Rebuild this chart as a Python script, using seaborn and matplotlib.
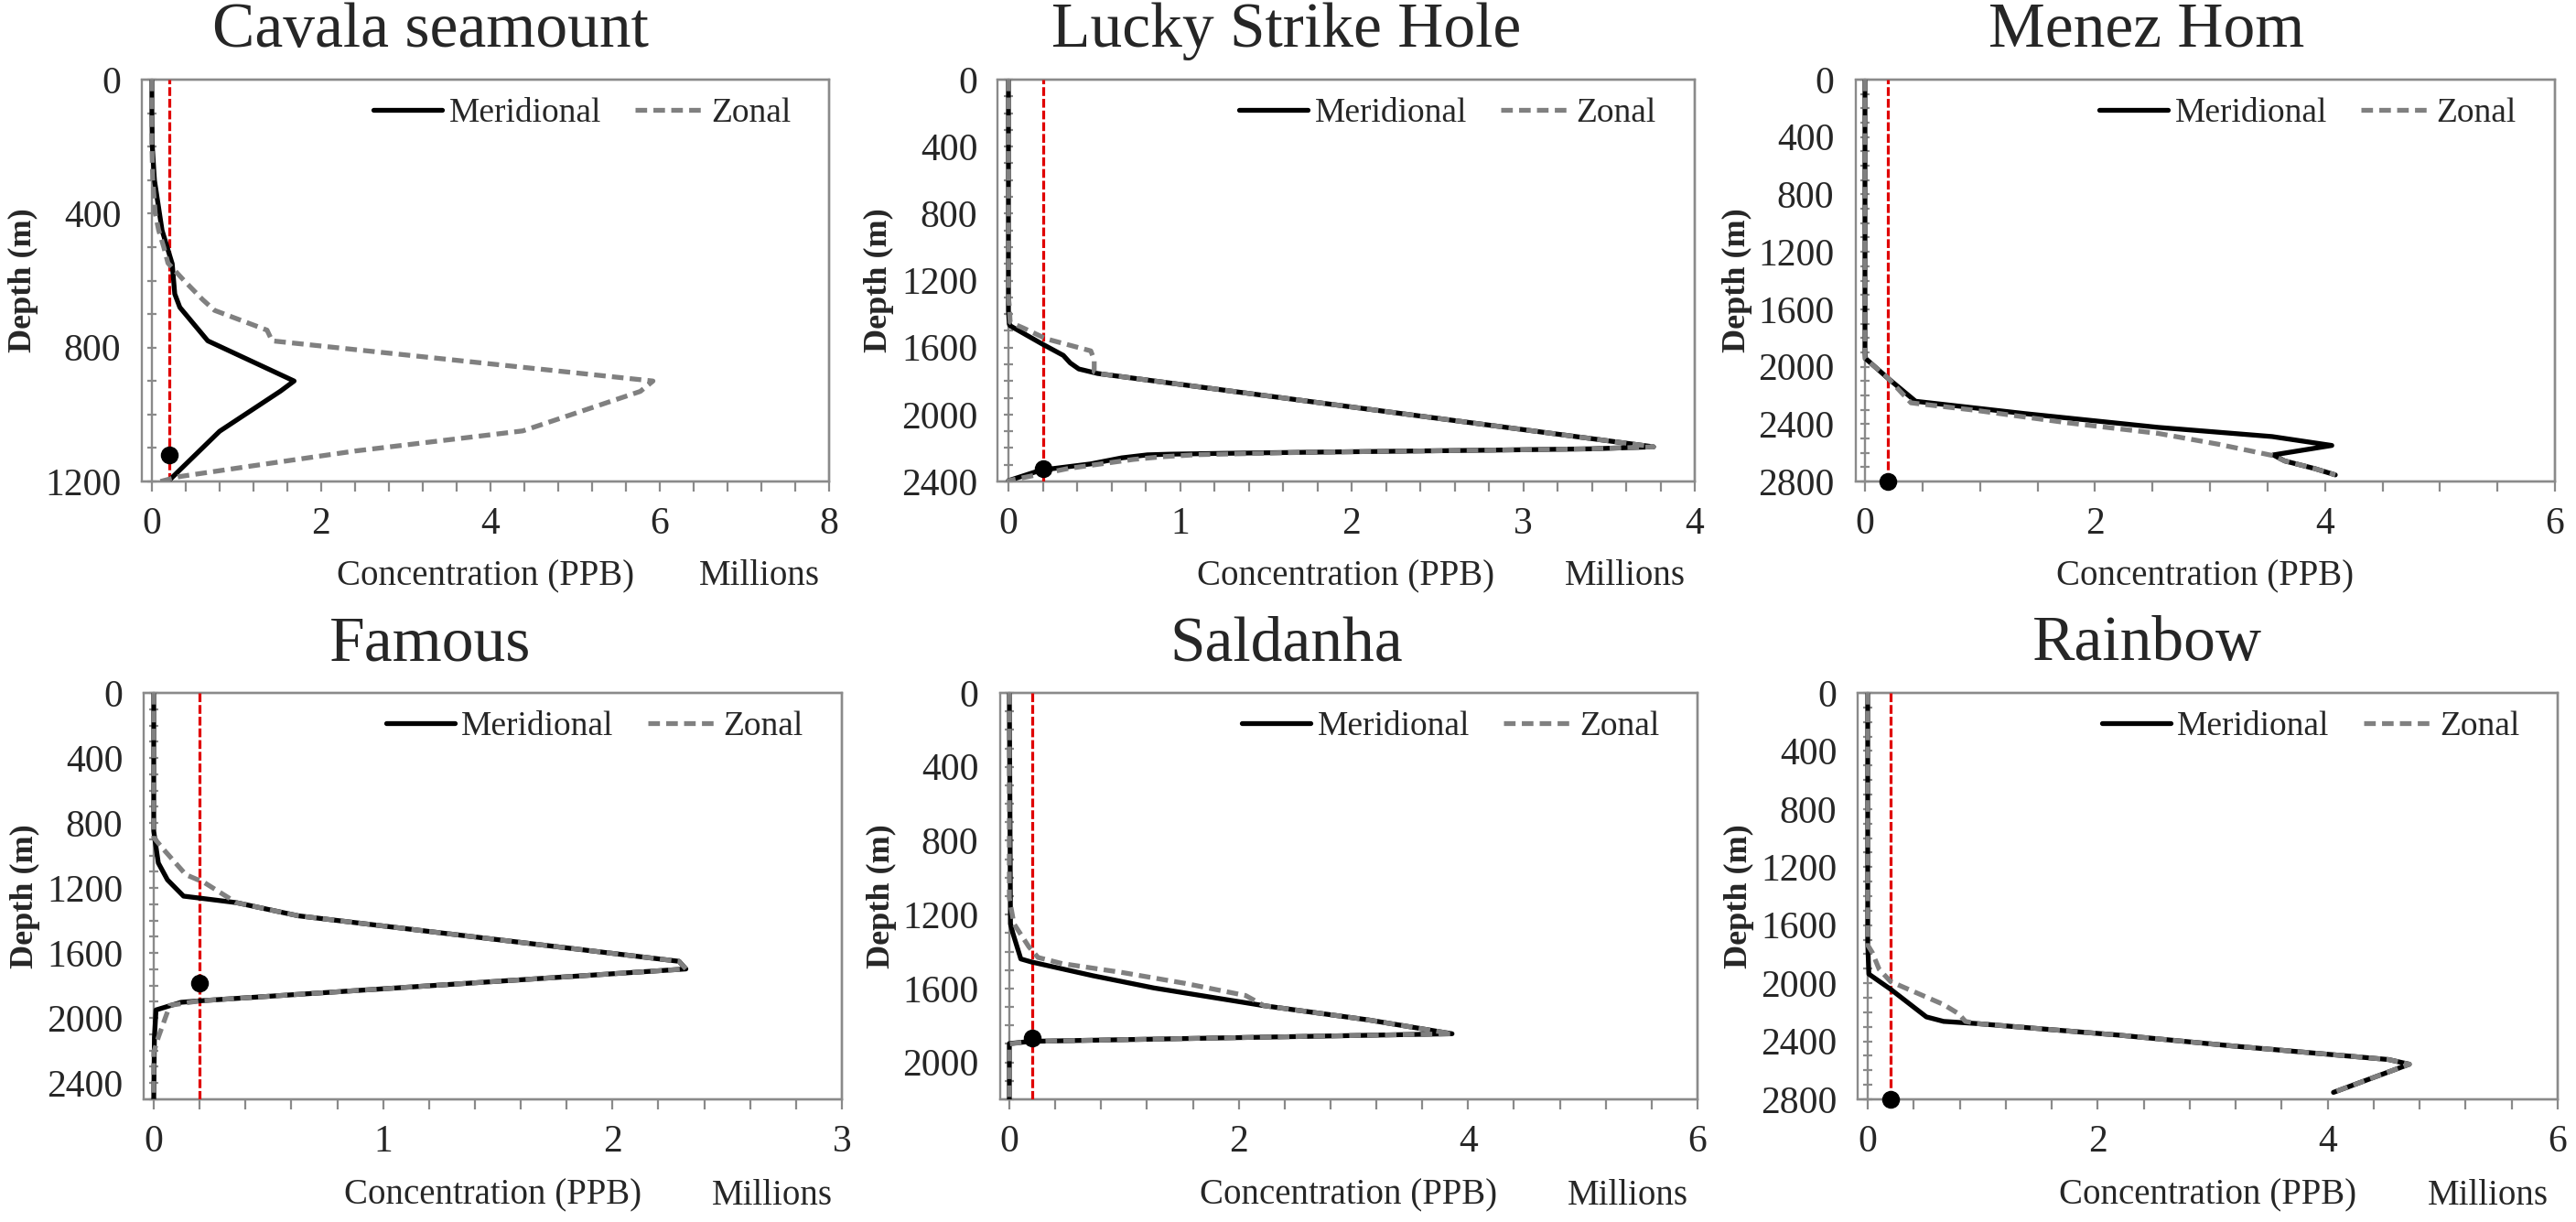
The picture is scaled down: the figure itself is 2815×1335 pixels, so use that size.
import matplotlib
matplotlib.use("Agg")
import matplotlib.pyplot as plt
from matplotlib.ticker import MultipleLocator
from matplotlib.patches import Rectangle
from matplotlib.lines import Line2D
import pandas as pd
import seaborn as sns

# ---------------- data (concentration in millions of PPB, depth in m) ----------------
sites = ["Cavala seamount", "Lucky Strike Hole", "Menez Hom", "Famous", "Saldanha", "Rainbow"]

cav_mer_depth = [0, 100, 200, 300, 400, 450, 500, 550, 640, 680, 780, 900, 930, 975, 1050, 1200]
cav_mer_conc = [0.0, 0.0, 0.005, 0.03, 0.09, 0.12, 0.18, 0.24, 0.27, 0.33, 0.66, 1.68, 1.52, 1.25, 0.80, 0.19]
cav_zon_depth = [0, 200, 300, 400, 450, 500, 548, 600, 657, 689, 748, 780, 900, 931, 1022, 1049, 1109, 1154, 1186, 1200]
cav_zon_conc = [0.0, 0.0, 0.01, 0.04, 0.08, 0.14, 0.19, 0.38, 0.60, 0.74, 1.36, 1.42, 5.92, 5.77, 4.70, 4.38, 2.40, 1.17, 0.31, 0.10]

lsh_mer_depth = [0, 1380, 1460, 1470, 1575, 1647, 1692, 1728, 1755, 2193, 2205, 2213, 2225, 2232, 2237, 2241, 2259, 2295, 2332, 2395, 2400]
lsh_mer_conc = [0.0, 0.0, 0.005, 0.01, 0.19, 0.32, 0.36, 0.41, 0.52, 3.76, 3.40, 2.80, 1.77, 1.25, 0.94, 0.81, 0.66, 0.48, 0.19, 0.0, 0.0]
lsh_zon_depth = [0, 1300, 1350, 1449, 1485, 1548, 1620, 1674, 1746, 1755, 2193, 2205, 2213, 2225, 2240, 2252, 2268, 2322, 2395, 2400]
lsh_zon_conc = [0.0, 0.0, 0.005, 0.01, 0.09, 0.22, 0.48, 0.50, 0.50, 0.52, 3.76, 3.40, 2.80, 1.77, 1.10, 0.90, 0.73, 0.35, 0.0, 0.0]

mh_mer_depth = [0, 1900, 1943, 2081, 2241, 2327, 2423, 2487, 2549, 2615, 2657, 2710, 2754]
mh_mer_conc = [0.0, 0.0, 0.005, 0.20, 0.44, 1.39, 2.55, 3.54, 4.06, 3.55, 3.65, 3.91, 4.09]
mh_zon_depth = [0, 1900, 1943, 2071, 2252, 2305, 2391, 2465, 2540, 2620, 2657, 2710, 2754]
mh_zon_conc = [0.0, 0.0, 0.0, 0.19, 0.40, 0.97, 1.76, 2.55, 3.07, 3.55, 3.65, 3.91, 4.09]

fam_mer_depth = [0, 850, 901, 1046, 1150, 1250, 1262, 1290, 1371, 1651, 1698, 1894, 1903, 1950, 2118, 2500]
fam_mer_conc = [0.0, 0.0, 0.005, 0.02, 0.06, 0.13, 0.20, 0.36, 0.63, 2.29, 2.32, 0.20, 0.12, 0.01, 0.003, 0.0]
fam_zon_depth = [0, 850, 890, 974, 1118, 1166, 1290, 1371, 1651, 1698, 1894, 1922, 2118, 2211, 2500]
fam_zon_conc = [0.0, 0.0, 0.0, 0.05, 0.14, 0.22, 0.36, 0.63, 2.29, 2.32, 0.20, 0.07, 0.02, 0.0, 0.0]

sal_mer_depth = [0, 1250, 1299, 1440, 1456, 1531, 1597, 1693, 1770, 1845, 1886, 1898, 2200]
sal_mer_conc = [0.0, 0.01, 0.03, 0.10, 0.19, 0.73, 1.26, 2.22, 3.13, 3.86, 0.19, 0.0, 0.0]
sal_zon_depth = [0, 1111, 1250, 1374, 1432, 1465, 1514, 1572, 1638, 1693, 1770, 1845, 1886, 1900, 2200]
sal_zon_conc = [0.0, 0.0, 0.04, 0.17, 0.25, 0.46, 0.99, 1.53, 2.06, 2.22, 3.13, 3.86, 0.19, 0.0, 0.0]

rb_mer_depth = [0, 1723, 1937, 2042, 2232, 2263, 2278, 2358, 2432, 2526, 2558, 2752]
rb_mer_conc = [0.0, 0.0, 0.01, 0.20, 0.51, 0.66, 0.95, 2.19, 3.17, 4.53, 4.71, 4.05]
rb_zon_depth = [0, 1737, 1789, 1905, 1989, 2147, 2210, 2263, 2278, 2358, 2432, 2526, 2558, 2752]
rb_zon_conc = [0.0, 0.0, 0.04, 0.10, 0.20, 0.66, 0.79, 0.85, 0.95, 2.19, 3.17, 4.53, 4.71, 4.05]

threshold_conc = [0.2, 0.2, 0.2, 0.2, 0.2, 0.2]
dot_conc = [0.2, 0.2, 0.2, 0.2, 0.2, 0.2]
dot_depth = [1120, 2322, 2800, 1785, 1868, 2800]

x_max = [8, 4, 6, 3, 6, 6]
y_max = [1200, 2400, 2800, 2500, 2200, 2800]
x_major = [2, 1, 2, 1, 2, 2]
x_minor = [0.4, 0.2, 0.5, 0.2, 0.4, 0.4]
show_millions = [True, True, False, True, True, True]

series = [
    (cav_mer_depth, cav_mer_conc, cav_zon_depth, cav_zon_conc),
    (lsh_mer_depth, lsh_mer_conc, lsh_zon_depth, lsh_zon_conc),
    (mh_mer_depth, mh_mer_conc, mh_zon_depth, mh_zon_conc),
    (fam_mer_depth, fam_mer_conc, fam_zon_depth, fam_zon_conc),
    (sal_mer_depth, sal_mer_conc, sal_zon_depth, sal_zon_conc),
    (rb_mer_depth, rb_mer_conc, rb_zon_depth, rb_zon_conc),
]

# ---------------- style ----------------
sns.set_style("white")
plt.rcParams['font.family'] = ['Liberation Serif', 'DejaVu Serif']

W, H = 2815, 1335
fig = plt.figure(figsize=(W / 100, H / 100), dpi=100)

# (left border, right, data-zero x, top, bottom) in pixels
boxes = [
    (155, 906, 166, 87, 526),
    (1090, 1852, 1102, 87, 526),
    (2028, 2792, 2038, 87, 526),
    (157, 920, 168, 757, 1201),
    (1093, 1855, 1103, 757, 1201),
    (2030, 2795, 2041, 757, 1201),
]
title_x = [470, 1406, 2346, 470, 1406, 2346]
title_base = [50.5, 50.5, 50.5, 721.5, 721.5, 721.5]

GRAY_AX = "#8a8a8a"
ZONAL = "#808080"
RED = "#e00000"
LW = 3.8
zdash = (0, (2.4, 1.3))

for i in range(6):
    L, R, X0, T, B = boxes[i]
    wpx, hpx = R - L, B - T
    ax = fig.add_axes([L / W, 1 - B / H, wpx / W, hpx / H])
    mer_d, mer_c, zon_d, zon_c = series[i]
    df_m = pd.DataFrame({"conc": mer_c, "depth": mer_d})
    df_z = pd.DataFrame({"conc": zon_c, "depth": zon_d})

    ax.axvline(threshold_conc[i], color=RED, lw=2.3, linestyle=(0, (3.0, 1.0)), zorder=2.8)
    sns.lineplot(data=df_m, x="conc", y="depth", sort=False, estimator=None,
                 color="black", lw=LW, ax=ax, zorder=3, legend=False)
    sns.lineplot(data=df_z, x="conc", y="depth", sort=False, estimator=None,
                 color=ZONAL, lw=LW, linestyle=zdash, ax=ax, zorder=3.1, legend=False)
    ax.scatter([dot_conc[i]], [dot_depth[i]], s=170, color="black", zorder=4, clip_on=False)

    xmin = -(X0 - L) / (R - X0) * x_max[i]
    ax.set_xlim(xmin, x_max[i])
    ax.set_ylim(y_max[i], 0)
    ax.set_xlabel("")
    ax.set_ylabel("")

    ax.xaxis.set_major_locator(MultipleLocator(x_major[i]))
    ax.xaxis.set_minor_locator(MultipleLocator(x_minor[i]))
    ax.yaxis.set_major_locator(MultipleLocator(400))
    ax.yaxis.set_minor_locator(MultipleLocator(100))

    for s in ["top", "right", "bottom"]:
        ax.spines[s].set_color(GRAY_AX)
        ax.spines[s].set_linewidth(1.7)
    ax.spines["left"].set_position(("data", 0))
    ax.spines["left"].set_color(GRAY_AX)
    ax.spines["left"].set_linewidth(1.7)
    ax.add_patch(Rectangle((0, 0), 1, 1, transform=ax.transAxes, fill=False,
                           ec=GRAY_AX, lw=1.7, clip_on=False, zorder=2.5))

    ax.tick_params(axis="x", which="both", direction="out", length=8, width=1.6,
                   color=GRAY_AX, pad=12, labelsize=30, bottom=True, top=False)
    ax.tick_params(axis="y", which="both", direction="inout", length=6.5, width=1.6,
                   color=GRAY_AX, pad=21, labelsize=30, left=True, right=False)

    handles = [Line2D([], [], color="black", lw=LW),
               Line2D([], [], color=ZONAL, lw=LW, linestyle=zdash)]
    ax.legend(handles, ["Meridional", "Zonal"], loc="center right",
              bbox_to_anchor=(1 - 42 / wpx, 1 - 37 / hpx), ncol=2, frameon=False,
              fontsize=27, handlelength=2.0, handletextpad=0.2, columnspacing=1.0,
              borderpad=0, borderaxespad=0)

    ax.text(-130 / wpx, 0.5, "Depth (m)", transform=ax.transAxes, rotation=90,
            ha="center", va="center", fontsize=26, fontweight="bold")
    ax.text(0.5, -0.258, "Concentration (PPB)", transform=ax.transAxes,
            ha="center", va="baseline", fontsize=28)
    if show_millions[i]:
        ax.text(1 - 10 / wpx, -0.258, "Millions", transform=ax.transAxes,
                ha="right", va="baseline", fontsize=28)

    fig.text(title_x[i] / W, 1 - title_base[i] / H, sites[i], ha="center",
             va="baseline", fontsize=50)

fig.savefig("out.png", dpi=100)
